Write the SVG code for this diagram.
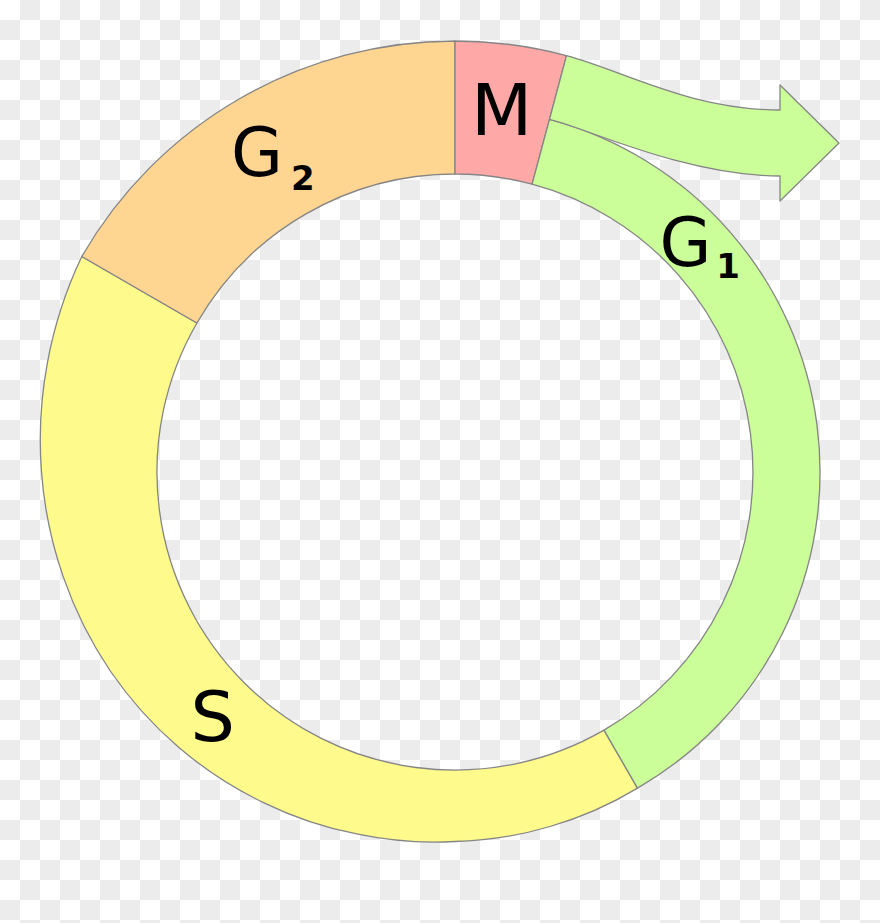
<svg xmlns="http://www.w3.org/2000/svg" width="880" height="923" viewBox="0 0 880 923">
  <defs>
    <pattern id="checker" x="0" y="0" width="40" height="40" patternUnits="userSpaceOnUse">
      <rect width="40" height="40" fill="#ffffff"/>
      <rect x="20" y="0" width="20" height="20" fill="#ececec"/>
      <rect x="0" y="20" width="20" height="20" fill="#ececec"/>
    </pattern>
    <style>
      .seg { stroke: #858585; stroke-width: 1.3; stroke-linejoin: round; }
      .lbl { font-family: "DejaVu Sans", "Liberation Sans", sans-serif; fill: #000000; }
      .sub { font-family: "DejaVu Sans", "Liberation Sans", sans-serif; font-weight: bold; font-size: 34px; fill: #000000; }
    </style>
  </defs>
  <rect width="880" height="923" fill="url(#checker)"/>

  <g id="phase-S">
    <path class="seg" fill="#fffa8c" d="M637.5,788.1 A366 366 0 0 1 550,826.5 A368 368 0 0 1 455,841.5 A372 372 0 0 1 357.9,834.2 A378 378 0 0 1 264,802.8 A386 386 0 0 1 179.2,747.8 A394 394 0 0 1 110.3,671 A402 402 0 0 1 63.3,576.9 A410 410 0 0 1 41.5,472 A418 418 0 0 1 47.4,362.8 A426 426 0 0 1 81.8,256.5 L196.9,323 A298 298 0 0 0 604,730.1 Z"/>
    <text class="lbl" x="190.5" y="741" font-size="70">S</text>
  </g>

  <g id="phase-G2">
    <path class="seg" fill="#ffd592" d="M81.8,256.5 A431 431 0 0 1 455,41 L455,174 A298 298 0 0 0 196.9,323 Z"/>
    <text class="lbl" x="231" y="176" font-size="67">G<tspan class="sub" x="291" y="190">2</tspan></text>
  </g>

  <g id="phase-M">
    <path class="seg" fill="#ffa8a8" d="M455,41 A431 431 0 0 1 566.5,55.7 L532.1,184.2 A298 298 0 0 0 455,174 Z"/>
    <text class="lbl" x="501.7" y="135" font-size="71" text-anchor="middle">M</text>
  </g>

  <g id="phase-G1">
    <path class="seg" fill="#cbfd98" d="M549.5,119.4 A365 365 0 0 1 637.5,788.1 L604,730.1 A298 298 0 0 0 532.1,184.2 Z"/>
    <text class="lbl" x="659.5" y="266" font-size="67">G<tspan class="sub" x="716.3" y="278">1</tspan></text>
  </g>

  <g id="connectors">
    <path id="exit-arrow" class="seg" fill="#cbfd98" d="M566.5,55.7 C624.5,71.2 690,110 780,110 L780,85 L839,143 L780,201 L780,176 C710,176 636,149.5 580,129 A365 365 0 0 0 549.5,119.4 Z"/>
  </g>
</svg>
